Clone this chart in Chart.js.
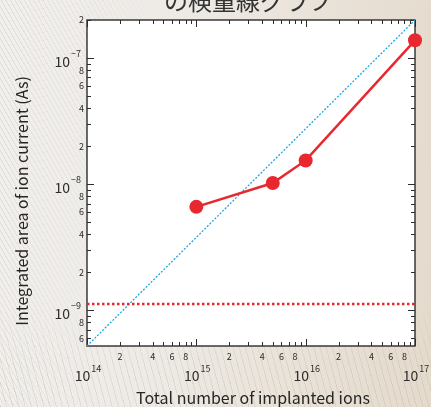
<!DOCTYPE html>
<html>
<head>
<meta charset="utf-8">
<script src="https://cdn.jsdelivr.net/npm/chart.js@4.4.1/dist/chart.umd.min.js"></script>
<style>
  html, body { margin: 0; padding: 0; }
  body {
    width: 431px; height: 407px; overflow: hidden; position: relative;
    background: linear-gradient(95deg, #f2f0ed 0%, #eeebe7 35%, #e9e2d8 70%, #e4dacc 100%);
  }
  #texture {
    position: absolute; left: 0; top: 0; width: 431px; height: 407px;
    background: repeating-linear-gradient(60deg, rgba(185,178,168,0.30) 0 1px, transparent 1px 4px);
    -webkit-mask-image: linear-gradient(100deg, #000 0%, rgba(0,0,0,0.55) 18%, transparent 32%);
    mask-image: linear-gradient(100deg, #000 0%, rgba(0,0,0,0.55) 18%, transparent 32%);
  }
  #texture2 {
    position: absolute; left: 0; top: 300px; width: 431px; height: 107px;
    background: repeating-linear-gradient(75deg, rgba(170,160,145,0.22) 0 1px, transparent 1px 6px);
    -webkit-mask-image: linear-gradient(180deg, transparent 0%, #000 60%);
    mask-image: linear-gradient(180deg, transparent 0%, #000 60%);
  }
  canvas { position: absolute; left: 0; top: 0; }
</style>
</head>
<body>
<div id="texture"></div>
<div id="texture2"></div>
<canvas id="chart" width="431" height="407"></canvas>
<script>
// Calibration: total implanted ions vs integrated ion-current area
const titleText = 'の検量線グラフ';
const xAxisTitle = 'Total number of implanted ions';
const yAxisTitle = 'Integrated area of ion current (As)';

const implantedIons   = [1e15, 5e15, 1e16, 1e17];
const ionCurrentArea  = [6.6e-9, 1.02e-8, 1.54e-8, 1.38e-7];

const detectionLimit  = 1.12e-9;

const referenceIons   = [1e14, 1e17];
const referenceArea   = [5.2e-10, 2e-7];

const xRange = [1e14, 1e17];
const yRange = [5.2e-10, 2e-7];

const xMajorExponents = [14, 15, 16, 17];
const yMajorExponents = [-9, -8, -7];
const minorLabels     = [2, 4, 6, 8];

const red  = '#e8272f';
const blue = '#1ea7e4';
const ink  = '#2d2d2d';

const toPoints = (xs, ys) => xs.map((x, i) => ({ x, y: ys[i] }));

function logTicks(min, max) {
  const out = [];
  const lo = Math.floor(Math.log10(min)), hi = Math.ceil(Math.log10(max));
  for (let e = lo; e <= hi; e++) {
    for (let m = 1; m <= 9; m++) {
      const v = m * Math.pow(10, e);
      if (v >= min * 0.999 && v <= max * 1.001) out.push({ v, m, e });
    }
  }
  return out;
}

function drawPower(ctx, cx, baseY, supY, exp, align, rightX) {
  ctx.font = '14px "Noto Sans CJK JP", "Noto Sans", sans-serif';
  const wb = ctx.measureText('10').width;
  ctx.font = '9px "Noto Sans CJK JP", "Noto Sans", sans-serif';
  const es = String(exp).replace('-', '\u2212');
  const we = ctx.measureText(es).width;
  const total = wb + 1 + we;
  const left = align === 'center' ? cx - total / 2 : rightX - total;
  ctx.textAlign = 'left';
  ctx.textBaseline = 'alphabetic';
  ctx.font = '14px "Noto Sans CJK JP", "Noto Sans", sans-serif';
  ctx.fillText('10', left, baseY);
  ctx.font = '9px "Noto Sans CJK JP", "Noto Sans", sans-serif';
  ctx.fillText(es, left + wb + 1, supY);
}

const logFrame = {
  id: 'logFrame',
  beforeDraw(chart) {
    const { ctx, chartArea: a } = chart;
    ctx.save();
    ctx.fillStyle = '#ffffff';
    ctx.fillRect(a.left, a.top, a.width, a.height);
    ctx.restore();
  },
  beforeDatasetsDraw(chart) {
    const { ctx, chartArea: a, scales: { x, y } } = chart;
    ctx.save();
    ctx.strokeStyle = ink;
    ctx.lineWidth = 1;
    ctx.beginPath();
    for (const t of logTicks(xRange[0], xRange[1])) {
      const px = Math.round(x.getPixelForValue(t.v)) + 0.5;
      const len = t.m === 1 ? 7 : 4;
      ctx.moveTo(px, a.bottom); ctx.lineTo(px, a.bottom - len);
      ctx.moveTo(px, a.top);    ctx.lineTo(px, a.top + len);
    }
    for (const t of logTicks(yRange[0], yRange[1])) {
      const py = Math.round(y.getPixelForValue(t.v)) + 0.5;
      const len = t.m === 1 ? 7 : 4;
      ctx.moveTo(a.left, py);  ctx.lineTo(a.left + len, py);
      ctx.moveTo(a.right, py); ctx.lineTo(a.right - len, py);
    }
    ctx.stroke();
    ctx.lineWidth = 1.4;
    ctx.strokeRect(a.left, a.top, a.width, a.height);
    ctx.restore();
  },
  afterDraw(chart) {
    const { ctx, chartArea: a, scales: { x, y } } = chart;
    ctx.save();
    ctx.fillStyle = ink;

    // minor tick labels
    ctx.font = '9px "Noto Sans CJK JP", "Noto Sans", sans-serif';
    for (const t of logTicks(xRange[0], xRange[1])) {
      if (!minorLabels.includes(t.m)) continue;
      ctx.textAlign = 'center'; ctx.textBaseline = 'alphabetic';
      ctx.fillText(String(t.m), x.getPixelForValue(t.v), a.bottom + 14);
    }
    for (const t of logTicks(yRange[0], yRange[1])) {
      if (!minorLabels.includes(t.m)) continue;
      ctx.textAlign = 'right'; ctx.textBaseline = 'middle';
      ctx.fillText(String(t.m), a.left - 3, y.getPixelForValue(t.v));
    }

    // decade labels
    for (const e of xMajorExponents) {
      const px = x.getPixelForValue(Math.pow(10, e));
      drawPower(ctx, px + 1, a.bottom + 34.5, a.bottom + 25.5, e, 'center');
    }
    for (const e of yMajorExponents) {
      const py = y.getPixelForValue(Math.pow(10, e));
      drawPower(ctx, 0, py + 9, py - 1, e, 'right', a.left - 6);
    }

    // axis titles
    ctx.fillStyle = '#262626';
    ctx.font = '16px "Noto Sans CJK JP", "Noto Sans", sans-serif';
    ctx.textAlign = 'center'; ctx.textBaseline = 'alphabetic';
    ctx.fillText(xAxisTitle, (a.left + a.right) / 2 + 2, 404);
    ctx.save();
    ctx.translate(22, (a.top + a.bottom) / 2 + 18);
    ctx.rotate(-Math.PI / 2);
    ctx.textBaseline = 'middle';
    ctx.fillText(yAxisTitle, 0, 0);
    ctx.restore();

    // heading (runs off the top edge)
    ctx.fillStyle = '#333333';
    ctx.font = '24px "Noto Sans CJK JP", sans-serif';
    ctx.textAlign = 'center'; ctx.textBaseline = 'alphabetic';
    ctx.fillText(titleText, 248, 10);
    ctx.restore();
  }
};

new Chart(document.getElementById('chart'), {
  type: 'scatter',
  data: {
    datasets: [
      {
        label: 'measured',
        data: toPoints(implantedIons, ionCurrentArea),
        showLine: true,
        borderColor: red,
        backgroundColor: red,
        borderWidth: 2.5,
        pointRadius: 7,
        pointBorderWidth: 0,
        clip: false
      },
      {
        label: 'detection limit',
        data: toPoints(xRange, [detectionLimit, detectionLimit]),
        showLine: true,
        borderColor: red,
        borderWidth: 2.5,
        borderDash: [2.5, 2.5],
        pointRadius: 0
      },
      {
        label: 'proportional',
        data: toPoints(referenceIons, referenceArea),
        showLine: true,
        borderColor: blue,
        borderWidth: 1.3,
        borderDash: [2, 1.6],
        pointRadius: 0
      }
    ]
  },
  options: {
    responsive: false,
    animation: false,
    events: [],
    layout: { padding: { left: 87, right: 16, top: 20, bottom: 61 } },
    plugins: { legend: { display: false }, tooltip: { enabled: false } },
    scales: {
      x: { type: 'logarithmic', min: xRange[0], max: xRange[1], display: false },
      y: { type: 'logarithmic', min: yRange[0], max: yRange[1], display: false }
    }
  },
  plugins: [logFrame]
});
</script>
</body>
</html>
